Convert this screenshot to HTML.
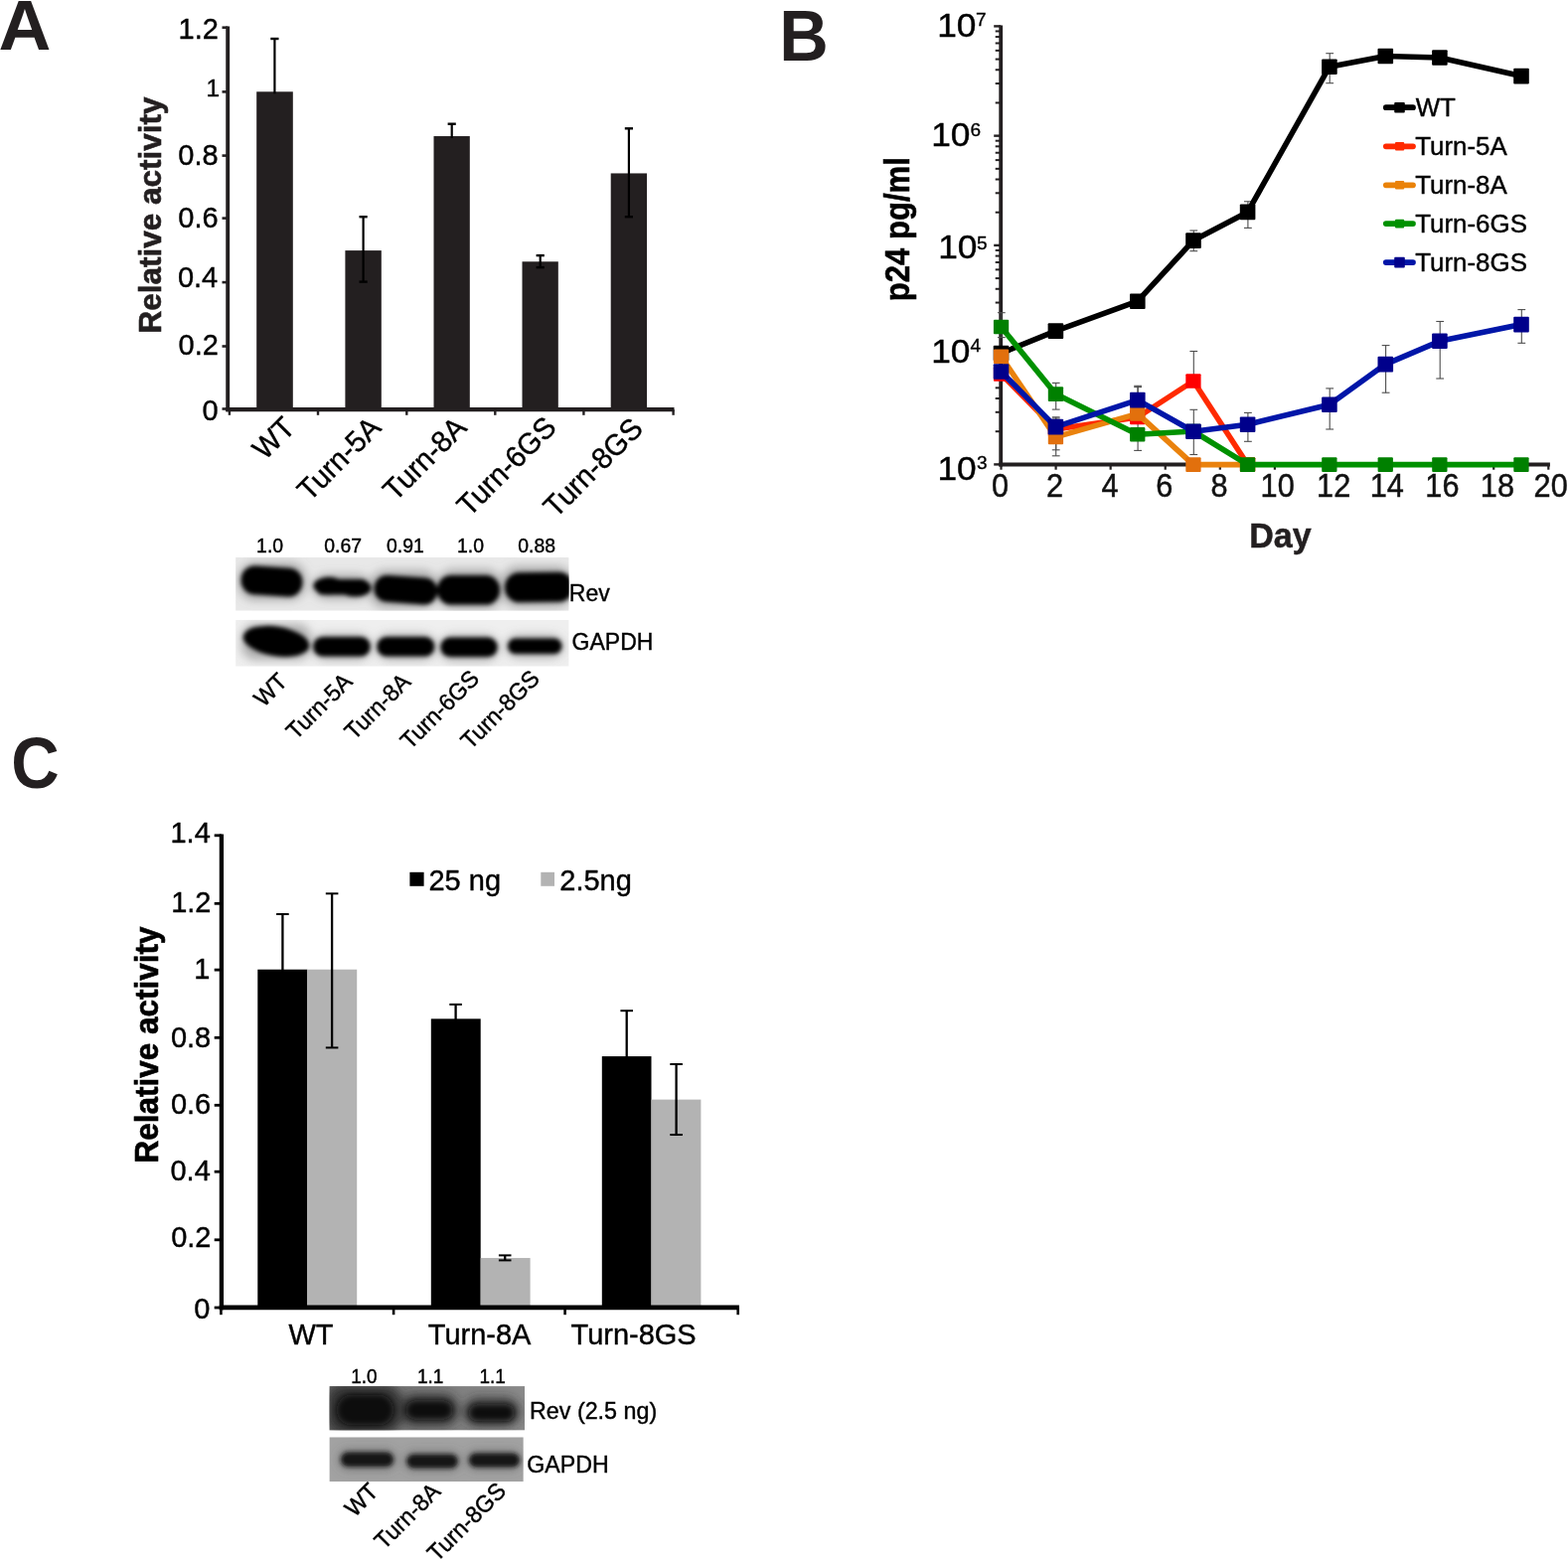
<!DOCTYPE html>
<html lang="en">
<head>
<meta charset="utf-8">
<title>Figure</title>
<style>
html,body{margin:0;padding:0;background:#fff;}
body{width:1578px;height:1570px;overflow:hidden;}
svg{display:block;font-family:"Liberation Sans",sans-serif;}
svg text{white-space:pre;}
</style>
</head>
<body>
<svg width="1578" height="1570" viewBox="0 0 1578 1570">
<defs>
<filter id="soft" x="-5%" y="-5%" width="110%" height="110%"><feGaussianBlur stdDeviation="0.35"/></filter>
<filter id="b2" x="-20%" y="-40%" width="140%" height="180%"><feGaussianBlur stdDeviation="2.2"/></filter>
<filter id="b3" x="-20%" y="-40%" width="140%" height="180%"><feGaussianBlur stdDeviation="3.2"/></filter>
<filter id="b5" x="-30%" y="-60%" width="160%" height="220%"><feGaussianBlur stdDeviation="5"/></filter>
</defs>
<rect width="1578" height="1570" fill="#fff"/>
<g id="panelA">
<text transform="translate(-1.53 49.80) scale(1 0.9646)" font-size="73.28" font-weight="bold" fill="#231f20" >A</text>
<rect x="258.20" y="92.30" width="36.60" height="319.90" fill="#231f20" />
<rect x="347.40" y="252.10" width="36.40" height="160.10" fill="#231f20" />
<rect x="436.50" y="137.04" width="36.30" height="275.16" fill="#231f20" />
<rect x="525.50" y="263.29" width="36.30" height="148.91" fill="#231f20" />
<rect x="614.70" y="174.44" width="36.30" height="237.76" fill="#231f20" />
<line x1="276.40" y1="39.00" x2="276.40" y2="94.30" stroke="#000" stroke-width="2.2" />
<line x1="272.30" y1="39.00" x2="280.50" y2="39.00" stroke="#000" stroke-width="2.4" />
<line x1="365.60" y1="218.20" x2="365.60" y2="283.60" stroke="#000" stroke-width="2.2" />
<line x1="361.50" y1="218.20" x2="369.70" y2="218.20" stroke="#000" stroke-width="2.4" />
<line x1="361.50" y1="283.60" x2="369.70" y2="283.60" stroke="#000" stroke-width="2.4" />
<line x1="454.70" y1="124.70" x2="454.70" y2="139.04" stroke="#000" stroke-width="2.2" />
<line x1="450.60" y1="124.70" x2="458.80" y2="124.70" stroke="#000" stroke-width="2.4" />
<line x1="543.70" y1="257.10" x2="543.70" y2="269.10" stroke="#000" stroke-width="2.2" />
<line x1="539.60" y1="257.10" x2="547.80" y2="257.10" stroke="#000" stroke-width="2.4" />
<line x1="539.60" y1="269.10" x2="547.80" y2="269.10" stroke="#000" stroke-width="2.4" />
<line x1="632.90" y1="129.30" x2="632.90" y2="218.20" stroke="#000" stroke-width="2.2" />
<line x1="628.80" y1="129.30" x2="637.00" y2="129.30" stroke="#000" stroke-width="2.4" />
<line x1="628.80" y1="218.20" x2="637.00" y2="218.20" stroke="#000" stroke-width="2.4" />
<line x1="229.20" y1="26.60" x2="229.20" y2="414.20" stroke="#231f20" stroke-width="3.9" />
<line x1="227.30" y1="412.20" x2="678.50" y2="412.20" stroke="#231f20" stroke-width="4.2" />
<line x1="223.50" y1="411.50" x2="229.20" y2="411.50" stroke="#231f20" stroke-width="2.6" />
<text transform="translate(203.39 422.90) scale(1 1.03)" font-size="29" fill="#000" stroke="#000" stroke-width="0.4" >0</text>
<line x1="223.50" y1="348.50" x2="229.20" y2="348.50" stroke="#231f20" stroke-width="2.6" />
<text transform="translate(179.54 356.60) scale(1 1.03)" font-size="29" fill="#000" stroke="#000" stroke-width="0.4" >0.2</text>
<line x1="223.50" y1="284.10" x2="229.20" y2="284.10" stroke="#231f20" stroke-width="2.6" />
<text transform="translate(178.89 289.20) scale(1 1.03)" font-size="29" fill="#000" stroke="#000" stroke-width="0.4" >0.4</text>
<line x1="223.50" y1="219.60" x2="229.20" y2="219.60" stroke="#231f20" stroke-width="2.6" />
<text transform="translate(179.32 228.80) scale(1 1.03)" font-size="29" fill="#000" stroke="#000" stroke-width="0.4" >0.6</text>
<line x1="223.50" y1="156.60" x2="229.20" y2="156.60" stroke="#231f20" stroke-width="2.6" />
<text transform="translate(179.32 165.80) scale(1 1.03)" font-size="29" fill="#000" stroke="#000" stroke-width="0.4" >0.8</text>
<line x1="223.50" y1="92.40" x2="229.20" y2="92.40" stroke="#231f20" stroke-width="2.6" />
<text transform="translate(207.41 96.70)" font-size="24.5" fill="#000" stroke="#000" stroke-width="0.4" >1</text>
<line x1="223.50" y1="27.70" x2="229.20" y2="27.70" stroke="#231f20" stroke-width="2.6" />
<text transform="translate(179.54 39.10) scale(1 1.03)" font-size="29" fill="#000" stroke="#000" stroke-width="0.4" >1.2</text>
<line x1="230.90" y1="412.20" x2="230.90" y2="417.80" stroke="#231f20" stroke-width="2.4" />
<line x1="320.00" y1="412.20" x2="320.00" y2="417.80" stroke="#231f20" stroke-width="2.4" />
<line x1="409.30" y1="412.20" x2="409.30" y2="417.80" stroke="#231f20" stroke-width="2.4" />
<line x1="498.30" y1="412.20" x2="498.30" y2="417.80" stroke="#231f20" stroke-width="2.4" />
<line x1="677.60" y1="412.20" x2="677.60" y2="417.80" stroke="#231f20" stroke-width="2.4" />
<line x1="587.40" y1="412.20" x2="587.40" y2="417.80" stroke="#231f20" stroke-width="2.4" />
<text transform="translate(161.70 335.40) rotate(-90) scale(1 1.02)" font-size="31.5" font-weight="bold" fill="#231f20" stroke="#231f20" stroke-width="0.6" >Relative activity</text>
<text transform="translate(298.50 432.20) rotate(-45) scale(1 1.035)" font-size="29" text-anchor="end" fill="#000" stroke="#000" stroke-width="0.4" >WT</text>
<text transform="translate(384.90 432.20) rotate(-45) scale(1 1.035)" font-size="29" text-anchor="end" fill="#000" stroke="#000" stroke-width="0.4" >Turn-5A</text>
<text transform="translate(471.10 432.20) rotate(-45) scale(1 1.035)" font-size="29" text-anchor="end" fill="#000" stroke="#000" stroke-width="0.4" >Turn-8A</text>
<text transform="translate(561.40 431.80) rotate(-45) scale(1 1.035)" font-size="29" text-anchor="end" fill="#000" stroke="#000" stroke-width="0.4" >Turn-6GS</text>
<text transform="translate(648.60 433.10) rotate(-45) scale(1 1.035)" font-size="29" text-anchor="end" fill="#000" stroke="#000" stroke-width="0.4" >Turn-8GS</text>
</g>
<g id="blotA">
<clipPath id="cA1"><rect x="237.1" y="560.8" width="335.5" height="53.9"/></clipPath>
<g clip-path="url(#cA1)">
<rect x="237.10" y="560.80" width="335.50" height="53.90" fill="#e8e8e8" />
<g filter="url(#b5)">
<rect x="240.0" y="566.0" width="68.0" height="38.0" rx="16" ry="16" fill="#777" opacity="0.55"/>
<rect x="314.0" y="578.0" width="60.0" height="25.0" rx="16" ry="16" fill="#777" opacity="0.55"/>
<rect x="372.0" y="574.0" width="69.0" height="38.0" rx="16" ry="16" fill="#777" opacity="0.55"/>
<rect x="440.0" y="573.0" width="65.0" height="40.0" rx="16" ry="16" fill="#777" opacity="0.55"/>
<rect x="505.0" y="570.0" width="71.0" height="41.0" rx="16" ry="16" fill="#777" opacity="0.55"/>
</g><g filter="url(#b2)">
<rect x="242.6" y="570.6" width="61.8" height="28.8" rx="14" ry="14" fill="#000" opacity="1" transform="rotate(4 273.5 585.0)"/>
<ellipse cx="331.0" cy="589.6" rx="15.5" ry="8.8" fill="#000" opacity="1"/>
<ellipse cx="357.5" cy="591.8" rx="16.0" ry="8.8" fill="#000" opacity="1"/>
<rect x="318.0" y="583.0" width="53.0" height="15.6" rx="7.5" ry="7.5" fill="#000" opacity="1"/>
<rect x="376.4" y="580.2" width="63.8" height="27.0" rx="13.2" ry="13.2" fill="#000" opacity="1" transform="rotate(4 408.3 593.7)"/>
<rect x="440.0" y="579.0" width="63.0" height="29.6" rx="14.4" ry="14.4" fill="#000" opacity="1"/>
<rect x="508.0" y="576.0" width="69.0" height="30.0" rx="14.8" ry="14.8" fill="#000" opacity="1" transform="rotate(-1 542.5 591.0)"/>
</g></g>
<clipPath id="cA2"><rect x="237.1" y="623.8" width="335.5" height="46.9"/></clipPath>
<g clip-path="url(#cA2)">
<rect x="237.10" y="623.80" width="335.50" height="46.90" fill="#efefef" />
<g filter="url(#b5)">
<rect x="243.0" y="628.0" width="70.0" height="36.0" rx="14" ry="14" fill="#777" opacity="0.55"/>
<rect x="314.0" y="638.0" width="60.0" height="26.0" rx="14" ry="14" fill="#777" opacity="0.55"/>
<rect x="378.0" y="638.0" width="61.0" height="26.0" rx="14" ry="14" fill="#777" opacity="0.55"/>
<rect x="442.0" y="639.0" width="60.0" height="26.0" rx="14" ry="14" fill="#777" opacity="0.55"/>
<rect x="509.0" y="639.0" width="58.0" height="23.0" rx="14" ry="14" fill="#777" opacity="0.55"/>
</g><g filter="url(#b2)">
<ellipse cx="278.0" cy="645.4" rx="33.6" ry="14.8" fill="#000" opacity="1" transform="rotate(9 278.0 645.4)"/>
<rect x="315.2" y="641.0" width="57.4" height="19.6" rx="9.6" ry="9.6" fill="#000" opacity="1"/>
<rect x="379.4" y="641.0" width="57.8" height="19.6" rx="9.6" ry="9.6" fill="#000" opacity="1"/>
<rect x="443.4" y="641.6" width="57.2" height="19.4" rx="9.6" ry="9.6" fill="#000" opacity="1"/>
<rect x="511.0" y="642.4" width="54.4" height="15.6" rx="7.6" ry="7.6" fill="#000" opacity="1"/>
</g></g>
<text transform="translate(271.60 555.70) scale(1 1.035)" font-size="19.4" text-anchor="middle" fill="#000" stroke="#000" stroke-width="0.4" >1.0</text>
<text transform="translate(345.20 555.70) scale(1 1.035)" font-size="19.4" text-anchor="middle" fill="#000" stroke="#000" stroke-width="0.4" >0.67</text>
<text transform="translate(407.90 555.70) scale(1 1.035)" font-size="19.4" text-anchor="middle" fill="#000" stroke="#000" stroke-width="0.4" >0.91</text>
<text transform="translate(473.50 555.70) scale(1 1.035)" font-size="19.4" text-anchor="middle" fill="#000" stroke="#000" stroke-width="0.4" >1.0</text>
<text transform="translate(540.20 555.70) scale(1 1.035)" font-size="19.4" text-anchor="middle" fill="#000" stroke="#000" stroke-width="0.4" >0.88</text>
<text transform="translate(572.80 605.00) scale(1 1.035)" font-size="23" fill="#000" stroke="#000" stroke-width="0.4" >Rev</text>
<text transform="translate(575.60 653.60) scale(1 1.035)" font-size="23" fill="#000" stroke="#000" stroke-width="0.4" >GAPDH</text>
<text transform="translate(290.50 687.30) rotate(-45) scale(1 1.035)" font-size="23" text-anchor="end" fill="#000" stroke="#000" stroke-width="0.4" >WT</text>
<text transform="translate(355.80 687.50) rotate(-45) scale(1 1.035)" font-size="23" text-anchor="end" fill="#000" stroke="#000" stroke-width="0.4" >Turn-5A</text>
<text transform="translate(414.60 687.70) rotate(-45) scale(1 1.035)" font-size="23" text-anchor="end" fill="#000" stroke="#000" stroke-width="0.4" >Turn-8A</text>
<text transform="translate(483.50 684.50) rotate(-45) scale(1 1.035)" font-size="23" text-anchor="end" fill="#000" stroke="#000" stroke-width="0.4" >Turn-6GS</text>
<text transform="translate(544.30 684.50) rotate(-45) scale(1 1.035)" font-size="23" text-anchor="end" fill="#000" stroke="#000" stroke-width="0.4" >Turn-8GS</text>
</g>
<g id="panelB">
<text transform="translate(784.27 60.80) scale(1 1.049)" font-size="68.52" font-weight="bold" fill="#231f20" >B</text>
<line x1="1007.20" y1="25.60" x2="1007.20" y2="469.60" stroke="#231f20" stroke-width="3.8" />
<line x1="1005.30" y1="467.50" x2="1559.90" y2="467.50" stroke="#231f20" stroke-width="4.2" />
<line x1="1000.20" y1="467.40" x2="1007.20" y2="467.40" stroke="#231f20" stroke-width="2.4" />
<line x1="1001.70" y1="434.21" x2="1007.20" y2="434.21" stroke="#231f20" stroke-width="2.0" />
<line x1="1001.70" y1="414.80" x2="1007.20" y2="414.80" stroke="#231f20" stroke-width="2.0" />
<line x1="1001.70" y1="401.02" x2="1007.20" y2="401.02" stroke="#231f20" stroke-width="2.0" />
<line x1="1001.70" y1="390.34" x2="1007.20" y2="390.34" stroke="#231f20" stroke-width="2.0" />
<line x1="1001.70" y1="381.61" x2="1007.20" y2="381.61" stroke="#231f20" stroke-width="2.0" />
<line x1="1001.70" y1="374.23" x2="1007.20" y2="374.23" stroke="#231f20" stroke-width="2.0" />
<line x1="1001.70" y1="367.83" x2="1007.20" y2="367.83" stroke="#231f20" stroke-width="2.0" />
<line x1="1001.70" y1="362.19" x2="1007.20" y2="362.19" stroke="#231f20" stroke-width="2.0" />
<line x1="1000.20" y1="357.15" x2="1007.20" y2="357.15" stroke="#231f20" stroke-width="2.4" />
<line x1="1001.70" y1="323.96" x2="1007.20" y2="323.96" stroke="#231f20" stroke-width="2.0" />
<line x1="1001.70" y1="304.55" x2="1007.20" y2="304.55" stroke="#231f20" stroke-width="2.0" />
<line x1="1001.70" y1="290.77" x2="1007.20" y2="290.77" stroke="#231f20" stroke-width="2.0" />
<line x1="1001.70" y1="280.09" x2="1007.20" y2="280.09" stroke="#231f20" stroke-width="2.0" />
<line x1="1001.70" y1="271.36" x2="1007.20" y2="271.36" stroke="#231f20" stroke-width="2.0" />
<line x1="1001.70" y1="263.98" x2="1007.20" y2="263.98" stroke="#231f20" stroke-width="2.0" />
<line x1="1001.70" y1="257.58" x2="1007.20" y2="257.58" stroke="#231f20" stroke-width="2.0" />
<line x1="1001.70" y1="251.94" x2="1007.20" y2="251.94" stroke="#231f20" stroke-width="2.0" />
<line x1="1000.20" y1="246.90" x2="1007.20" y2="246.90" stroke="#231f20" stroke-width="2.4" />
<line x1="1001.70" y1="213.71" x2="1007.20" y2="213.71" stroke="#231f20" stroke-width="2.0" />
<line x1="1001.70" y1="194.30" x2="1007.20" y2="194.30" stroke="#231f20" stroke-width="2.0" />
<line x1="1001.70" y1="180.52" x2="1007.20" y2="180.52" stroke="#231f20" stroke-width="2.0" />
<line x1="1001.70" y1="169.84" x2="1007.20" y2="169.84" stroke="#231f20" stroke-width="2.0" />
<line x1="1001.70" y1="161.11" x2="1007.20" y2="161.11" stroke="#231f20" stroke-width="2.0" />
<line x1="1001.70" y1="153.73" x2="1007.20" y2="153.73" stroke="#231f20" stroke-width="2.0" />
<line x1="1001.70" y1="147.33" x2="1007.20" y2="147.33" stroke="#231f20" stroke-width="2.0" />
<line x1="1001.70" y1="141.69" x2="1007.20" y2="141.69" stroke="#231f20" stroke-width="2.0" />
<line x1="1000.20" y1="136.65" x2="1007.20" y2="136.65" stroke="#231f20" stroke-width="2.4" />
<line x1="1001.70" y1="103.46" x2="1007.20" y2="103.46" stroke="#231f20" stroke-width="2.0" />
<line x1="1001.70" y1="84.05" x2="1007.20" y2="84.05" stroke="#231f20" stroke-width="2.0" />
<line x1="1001.70" y1="70.27" x2="1007.20" y2="70.27" stroke="#231f20" stroke-width="2.0" />
<line x1="1001.70" y1="59.59" x2="1007.20" y2="59.59" stroke="#231f20" stroke-width="2.0" />
<line x1="1001.70" y1="50.86" x2="1007.20" y2="50.86" stroke="#231f20" stroke-width="2.0" />
<line x1="1001.70" y1="43.48" x2="1007.20" y2="43.48" stroke="#231f20" stroke-width="2.0" />
<line x1="1001.70" y1="37.08" x2="1007.20" y2="37.08" stroke="#231f20" stroke-width="2.0" />
<line x1="1001.70" y1="31.44" x2="1007.20" y2="31.44" stroke="#231f20" stroke-width="2.0" />
<line x1="1000.20" y1="26.40" x2="1007.20" y2="26.40" stroke="#231f20" stroke-width="2.4" />
<line x1="1007.50" y1="467.50" x2="1007.50" y2="472.70" stroke="#231f20" stroke-width="2.2" />
<line x1="1062.58" y1="467.50" x2="1062.58" y2="472.70" stroke="#231f20" stroke-width="2.2" />
<line x1="1117.66" y1="467.50" x2="1117.66" y2="472.70" stroke="#231f20" stroke-width="2.2" />
<line x1="1172.74" y1="467.50" x2="1172.74" y2="472.70" stroke="#231f20" stroke-width="2.2" />
<line x1="1227.82" y1="467.50" x2="1227.82" y2="472.70" stroke="#231f20" stroke-width="2.2" />
<line x1="1282.90" y1="467.50" x2="1282.90" y2="472.70" stroke="#231f20" stroke-width="2.2" />
<line x1="1337.98" y1="467.50" x2="1337.98" y2="472.70" stroke="#231f20" stroke-width="2.2" />
<line x1="1393.06" y1="467.50" x2="1393.06" y2="472.70" stroke="#231f20" stroke-width="2.2" />
<line x1="1448.14" y1="467.50" x2="1448.14" y2="472.70" stroke="#231f20" stroke-width="2.2" />
<line x1="1503.22" y1="467.50" x2="1503.22" y2="472.70" stroke="#231f20" stroke-width="2.2" />
<line x1="1558.30" y1="467.50" x2="1558.30" y2="472.70" stroke="#231f20" stroke-width="2.2" />
<text transform="translate(943.14 36.90) scale(1 0.92)" font-size="35.3" fill="#000" stroke="#000" stroke-width="0.45" >10</text>
<text transform="translate(982.10 26.00)" font-size="19" fill="#000" stroke="#000" stroke-width="0.35" >7</text>
<text transform="translate(937.24 147.30) scale(1 0.92)" font-size="35.3" fill="#000" stroke="#000" stroke-width="0.45" >10</text>
<text transform="translate(976.45 136.90)" font-size="19" fill="#000" stroke="#000" stroke-width="0.35" >6</text>
<text transform="translate(944.14 260.30) scale(1 0.92)" font-size="35.3" fill="#000" stroke="#000" stroke-width="0.45" >10</text>
<text transform="translate(983.04 250.50)" font-size="19" fill="#000" stroke="#000" stroke-width="0.35" >5</text>
<text transform="translate(937.24 364.60) scale(1 0.92)" font-size="35.3" fill="#000" stroke="#000" stroke-width="0.45" >10</text>
<text transform="translate(976.57 354.20)" font-size="19" fill="#000" stroke="#000" stroke-width="0.35" >4</text>
<text transform="translate(943.44 482.60) scale(1 0.92)" font-size="35.3" fill="#000" stroke="#000" stroke-width="0.45" >10</text>
<text transform="translate(982.99 471.60)" font-size="19" fill="#000" stroke="#000" stroke-width="0.35" >3</text>
<text transform="translate(998.04 500.20) scale(1 1.055)" font-size="30.7" fill="#111" stroke="#111" stroke-width="0.45" >0</text>
<text transform="translate(1053.08 500.20) scale(1 1.055)" font-size="30.7" fill="#111" stroke="#111" stroke-width="0.45" >2</text>
<text transform="translate(1108.46 500.20) scale(1 1.055)" font-size="30.7" fill="#111" stroke="#111" stroke-width="0.45" >4</text>
<text transform="translate(1163.27 500.20) scale(1 1.055)" font-size="30.7" fill="#111" stroke="#111" stroke-width="0.45" >6</text>
<text transform="translate(1218.58 500.20) scale(1 1.055)" font-size="30.7" fill="#111" stroke="#111" stroke-width="0.45" >8</text>
<text transform="translate(1268.59 500.20) scale(1 1.055)" font-size="30.7" fill="#111" stroke="#111" stroke-width="0.45" >10</text>
<text transform="translate(1325.08 500.20) scale(1 1.055)" font-size="30.7" fill="#111" stroke="#111" stroke-width="0.45" >12</text>
<text transform="translate(1378.63 500.20) scale(1 1.055)" font-size="30.7" fill="#111" stroke="#111" stroke-width="0.45" >14</text>
<text transform="translate(1434.36 500.20) scale(1 1.055)" font-size="30.7" fill="#111" stroke="#111" stroke-width="0.45" >16</text>
<text transform="translate(1489.86 500.20) scale(1 1.055)" font-size="30.7" fill="#111" stroke="#111" stroke-width="0.45" >18</text>
<text transform="translate(1543.57 500.20) scale(1 1.055)" font-size="30.7" fill="#111" stroke="#111" stroke-width="0.45" >20</text>
<text transform="translate(1288.40 551.00) scale(1 1.035)" font-size="34.0" font-weight="bold" text-anchor="middle" fill="#231f20" stroke="#231f20" stroke-width="0.5" >Day</text>
<text transform="translate(915.00 303.30) rotate(-90) scale(1 1.1)" font-size="31.1" font-weight="bold" fill="#000" stroke="#000" stroke-width="0.5" >p24 pg/ml</text>
<line x1="1007.80" y1="314.70" x2="1007.80" y2="339.60" stroke="#4d4d4d" stroke-width="1.1" />
<line x1="1003.90" y1="314.70" x2="1011.70" y2="314.70" stroke="#4d4d4d" stroke-width="1.1" />
<line x1="1003.90" y1="339.60" x2="1011.70" y2="339.60" stroke="#4d4d4d" stroke-width="1.1" />
<line x1="1062.70" y1="385.40" x2="1062.70" y2="412.10" stroke="#4d4d4d" stroke-width="1.1" />
<line x1="1058.80" y1="385.40" x2="1066.60" y2="385.40" stroke="#4d4d4d" stroke-width="1.1" />
<line x1="1058.80" y1="412.10" x2="1066.60" y2="412.10" stroke="#4d4d4d" stroke-width="1.1" />
<line x1="1062.70" y1="419.80" x2="1062.70" y2="452.80" stroke="#4d4d4d" stroke-width="1.1" />
<line x1="1058.80" y1="419.80" x2="1066.60" y2="419.80" stroke="#4d4d4d" stroke-width="1.1" />
<line x1="1058.80" y1="452.80" x2="1066.60" y2="452.80" stroke="#4d4d4d" stroke-width="1.1" />
<line x1="1062.70" y1="421.00" x2="1062.70" y2="458.80" stroke="#4d4d4d" stroke-width="1.1" />
<line x1="1058.80" y1="421.00" x2="1066.60" y2="421.00" stroke="#4d4d4d" stroke-width="1.1" />
<line x1="1058.80" y1="458.80" x2="1066.60" y2="458.80" stroke="#4d4d4d" stroke-width="1.1" />
<line x1="1145.10" y1="388.30" x2="1145.10" y2="453.40" stroke="#4d4d4d" stroke-width="1.1" />
<line x1="1141.20" y1="388.30" x2="1149.00" y2="388.30" stroke="#4d4d4d" stroke-width="1.1" />
<line x1="1141.20" y1="453.40" x2="1149.00" y2="453.40" stroke="#4d4d4d" stroke-width="1.1" />
<line x1="1145.10" y1="389.60" x2="1145.10" y2="426.00" stroke="#4d4d4d" stroke-width="1.1" />
<line x1="1141.20" y1="389.60" x2="1149.00" y2="389.60" stroke="#4d4d4d" stroke-width="1.1" />
<line x1="1201.30" y1="353.50" x2="1201.30" y2="383.50" stroke="#4d4d4d" stroke-width="1.1" />
<line x1="1197.40" y1="353.50" x2="1205.20" y2="353.50" stroke="#4d4d4d" stroke-width="1.1" />
<line x1="1201.30" y1="412.30" x2="1201.30" y2="457.50" stroke="#4d4d4d" stroke-width="1.1" />
<line x1="1197.40" y1="412.30" x2="1205.20" y2="412.30" stroke="#4d4d4d" stroke-width="1.1" />
<line x1="1197.40" y1="457.50" x2="1205.20" y2="457.50" stroke="#4d4d4d" stroke-width="1.1" />
<line x1="1201.30" y1="232.00" x2="1201.30" y2="252.70" stroke="#4d4d4d" stroke-width="1.1" />
<line x1="1197.40" y1="232.00" x2="1205.20" y2="232.00" stroke="#4d4d4d" stroke-width="1.1" />
<line x1="1197.40" y1="252.70" x2="1205.20" y2="252.70" stroke="#4d4d4d" stroke-width="1.1" />
<line x1="1255.90" y1="202.80" x2="1255.90" y2="229.40" stroke="#4d4d4d" stroke-width="1.1" />
<line x1="1252.00" y1="202.80" x2="1259.80" y2="202.80" stroke="#4d4d4d" stroke-width="1.1" />
<line x1="1252.00" y1="229.40" x2="1259.80" y2="229.40" stroke="#4d4d4d" stroke-width="1.1" />
<line x1="1255.90" y1="415.40" x2="1255.90" y2="444.30" stroke="#4d4d4d" stroke-width="1.1" />
<line x1="1252.00" y1="415.40" x2="1259.80" y2="415.40" stroke="#4d4d4d" stroke-width="1.1" />
<line x1="1252.00" y1="444.30" x2="1259.80" y2="444.30" stroke="#4d4d4d" stroke-width="1.1" />
<line x1="1338.20" y1="53.70" x2="1338.20" y2="83.70" stroke="#4d4d4d" stroke-width="1.1" />
<line x1="1334.30" y1="53.70" x2="1342.10" y2="53.70" stroke="#4d4d4d" stroke-width="1.1" />
<line x1="1334.30" y1="83.70" x2="1342.10" y2="83.70" stroke="#4d4d4d" stroke-width="1.1" />
<line x1="1338.20" y1="390.90" x2="1338.20" y2="432.00" stroke="#4d4d4d" stroke-width="1.1" />
<line x1="1334.30" y1="390.90" x2="1342.10" y2="390.90" stroke="#4d4d4d" stroke-width="1.1" />
<line x1="1334.30" y1="432.00" x2="1342.10" y2="432.00" stroke="#4d4d4d" stroke-width="1.1" />
<line x1="1394.60" y1="347.60" x2="1394.60" y2="395.20" stroke="#4d4d4d" stroke-width="1.1" />
<line x1="1390.70" y1="347.60" x2="1398.50" y2="347.60" stroke="#4d4d4d" stroke-width="1.1" />
<line x1="1390.70" y1="395.20" x2="1398.50" y2="395.20" stroke="#4d4d4d" stroke-width="1.1" />
<line x1="1449.20" y1="323.50" x2="1449.20" y2="381.00" stroke="#4d4d4d" stroke-width="1.1" />
<line x1="1445.30" y1="323.50" x2="1453.10" y2="323.50" stroke="#4d4d4d" stroke-width="1.1" />
<line x1="1445.30" y1="381.00" x2="1453.10" y2="381.00" stroke="#4d4d4d" stroke-width="1.1" />
<line x1="1531.30" y1="311.60" x2="1531.30" y2="345.30" stroke="#4d4d4d" stroke-width="1.1" />
<line x1="1527.40" y1="311.60" x2="1535.20" y2="311.60" stroke="#4d4d4d" stroke-width="1.1" />
<line x1="1527.40" y1="345.30" x2="1535.20" y2="345.30" stroke="#4d4d4d" stroke-width="1.1" />
<line x1="1394.60" y1="50.50" x2="1394.60" y2="62.50" stroke="#4d4d4d" stroke-width="1.1" />
<line x1="1390.70" y1="50.50" x2="1398.50" y2="50.50" stroke="#4d4d4d" stroke-width="1.1" />
<line x1="1390.70" y1="62.50" x2="1398.50" y2="62.50" stroke="#4d4d4d" stroke-width="1.1" />
<g filter="url(#soft)">
<polyline points="1007.5,355.5 1062.4,333.1 1144.8,303.2 1201.0,242.1 1255.6,213.4 1337.9,67.2 1394.3,56.5 1448.9,58.0 1531.0,76.6" fill="none" stroke="#000" stroke-width="5.6" stroke-linejoin="round"/>
<rect x="999.7" y="347.7" width="15.6" height="15.6" rx="1" fill="#000"/>
<rect x="1054.6" y="325.3" width="15.6" height="15.6" rx="1" fill="#000"/>
<rect x="1137.0" y="295.4" width="15.6" height="15.6" rx="1" fill="#000"/>
<rect x="1193.2" y="234.3" width="15.6" height="15.6" rx="1" fill="#000"/>
<rect x="1247.8" y="205.6" width="15.6" height="15.6" rx="1" fill="#000"/>
<rect x="1330.1" y="59.4" width="15.6" height="15.6" rx="1" fill="#000"/>
<rect x="1386.5" y="48.7" width="15.6" height="15.6" rx="1" fill="#000"/>
<rect x="1441.1" y="50.2" width="15.6" height="15.6" rx="1" fill="#000"/>
<rect x="1523.2" y="68.8" width="15.6" height="15.6" rx="1" fill="#000"/>
<polyline points="1007.5,376.5 1062.4,432.0 1144.8,420.0 1201.0,383.5 1255.6,467.6" fill="none" stroke="#ff2a00" stroke-width="5.6" stroke-linejoin="round"/>
<rect x="999.9" y="369.2" width="15.3" height="14.6" rx="1" fill="#ff0000"/>
<rect x="1054.8" y="424.7" width="15.3" height="14.6" rx="1" fill="#ff0000"/>
<rect x="1137.1" y="412.7" width="15.3" height="14.6" rx="1" fill="#ff0000"/>
<rect x="1193.3" y="376.2" width="15.3" height="14.6" rx="1" fill="#ff0000"/>
<rect x="1247.9" y="460.3" width="15.3" height="14.6" rx="1" fill="#ff0000"/>
<polyline points="1007.5,358.8 1062.4,439.9 1144.8,416.4 1201.0,467.6 1255.6,467.6" fill="none" stroke="#ea8209" stroke-width="5.6" stroke-linejoin="round"/>
<rect x="999.9" y="351.5" width="15.3" height="14.6" rx="1" fill="#e2700f"/>
<rect x="1054.8" y="432.6" width="15.3" height="14.6" rx="1" fill="#e2700f"/>
<rect x="1137.1" y="409.1" width="15.3" height="14.6" rx="1" fill="#e2700f"/>
<rect x="1193.3" y="460.3" width="15.3" height="14.6" rx="1" fill="#e2700f"/>
<rect x="1247.9" y="460.3" width="15.3" height="14.6" rx="1" fill="#e2700f"/>
<polyline points="1007.5,329.0 1062.4,396.6 1144.8,437.3 1201.0,434.0 1255.6,467.6 1337.9,467.6 1394.3,467.6 1448.9,467.6 1531.0,467.6" fill="none" stroke="#009100" stroke-width="5.6" stroke-linejoin="round"/>
<rect x="999.9" y="321.7" width="15.3" height="14.6" rx="1" fill="#008000"/>
<rect x="1054.8" y="389.3" width="15.3" height="14.6" rx="1" fill="#008000"/>
<rect x="1137.1" y="430.0" width="15.3" height="14.6" rx="1" fill="#008000"/>
<rect x="1193.3" y="426.7" width="15.3" height="14.6" rx="1" fill="#008000"/>
<rect x="1247.9" y="460.3" width="15.3" height="14.6" rx="1" fill="#008000"/>
<rect x="1330.2" y="460.3" width="15.3" height="14.6" rx="1" fill="#008000"/>
<rect x="1386.6" y="460.3" width="15.3" height="14.6" rx="1" fill="#008000"/>
<rect x="1441.2" y="460.3" width="15.3" height="14.6" rx="1" fill="#008000"/>
<rect x="1523.3" y="460.3" width="15.3" height="14.6" rx="1" fill="#008000"/>
<polyline points="1007.5,374.0 1062.4,429.6 1144.8,402.6 1201.0,434.3 1255.6,427.2 1337.9,407.2 1394.3,366.6 1448.9,343.3 1531.0,326.6" fill="none" stroke="#0014a8" stroke-width="5.6" stroke-linejoin="round"/>
<rect x="999.7" y="366.2" width="15.6" height="15.6" rx="1" fill="#00008b"/>
<rect x="1054.6" y="421.8" width="15.6" height="15.6" rx="1" fill="#00008b"/>
<rect x="1137.0" y="394.8" width="15.6" height="15.6" rx="1" fill="#00008b"/>
<rect x="1193.2" y="426.5" width="15.6" height="15.6" rx="1" fill="#00008b"/>
<rect x="1247.8" y="419.4" width="15.6" height="15.6" rx="1" fill="#00008b"/>
<rect x="1330.1" y="399.4" width="15.6" height="15.6" rx="1" fill="#00008b"/>
<rect x="1386.5" y="358.8" width="15.6" height="15.6" rx="1" fill="#00008b"/>
<rect x="1441.1" y="335.5" width="15.6" height="15.6" rx="1" fill="#00008b"/>
<rect x="1523.2" y="318.8" width="15.6" height="15.6" rx="1" fill="#00008b"/>
</g>
<line x1="1394.80" y1="108.20" x2="1422.00" y2="108.20" stroke="#000" stroke-width="5.7" stroke-linecap="round"/>
<rect x="1403.20" y="102.90" width="10.60" height="10.60" fill="#000" rx="1"/>
<text transform="translate(1424.67 116.60)" font-size="25.9" fill="#000" stroke="#000" stroke-width="0.4" >WT</text>
<line x1="1394.80" y1="147.30" x2="1422.00" y2="147.30" stroke="#ff2a00" stroke-width="5.7" stroke-linecap="round"/>
<rect x="1404.00" y="143.00" width="9.20" height="8.60" fill="#ff2a00" rx="1"/>
<text transform="translate(1424.22 155.70)" font-size="25.9" fill="#000" stroke="#000" stroke-width="0.4" >Turn-5A</text>
<line x1="1394.80" y1="186.30" x2="1422.00" y2="186.30" stroke="#ea8209" stroke-width="5.7" stroke-linecap="round"/>
<rect x="1404.00" y="182.00" width="9.20" height="8.60" fill="#ea8209" rx="1"/>
<text transform="translate(1424.22 194.70)" font-size="25.9" fill="#000" stroke="#000" stroke-width="0.4" >Turn-8A</text>
<line x1="1394.80" y1="225.10" x2="1422.00" y2="225.10" stroke="#009100" stroke-width="5.7" stroke-linecap="round"/>
<rect x="1404.00" y="220.80" width="9.20" height="8.60" fill="#009100" rx="1"/>
<text transform="translate(1424.22 233.50)" font-size="25.9" fill="#000" stroke="#000" stroke-width="0.4" >Turn-6GS</text>
<line x1="1394.80" y1="264.10" x2="1422.00" y2="264.10" stroke="#0014a8" stroke-width="5.7" stroke-linecap="round"/>
<rect x="1403.20" y="258.80" width="10.60" height="10.60" fill="#00008b" rx="1"/>
<text transform="translate(1424.22 272.50)" font-size="25.9" fill="#000" stroke="#000" stroke-width="0.4" >Turn-8GS</text>
</g>
<g id="panelC">
<text transform="translate(11.22 793.27) scale(1 1.09)" font-size="67.02" font-weight="bold" fill="#231f20" >C</text>
<rect x="259.30" y="975.70" width="50.00" height="340.10" fill="#000" />
<rect x="309.30" y="975.70" width="49.90" height="340.10" fill="#b3b3b3" />
<rect x="433.80" y="1025.34" width="49.90" height="290.46" fill="#000" />
<rect x="483.70" y="1266.06" width="49.90" height="49.74" fill="#b3b3b3" />
<rect x="605.80" y="1063.08" width="49.70" height="252.72" fill="#000" />
<rect x="655.50" y="1106.60" width="49.90" height="209.20" fill="#b3b3b3" />
<line x1="284.40" y1="920.00" x2="284.40" y2="977.00" stroke="#000" stroke-width="2.3" />
<line x1="278.10" y1="920.00" x2="290.70" y2="920.00" stroke="#000" stroke-width="2.0" />
<line x1="334.10" y1="899.30" x2="334.10" y2="1054.40" stroke="#000" stroke-width="2.3" />
<line x1="327.80" y1="899.30" x2="340.40" y2="899.30" stroke="#000" stroke-width="2.0" />
<line x1="327.80" y1="1054.40" x2="340.40" y2="1054.40" stroke="#000" stroke-width="2.0" />
<line x1="458.60" y1="1010.90" x2="458.60" y2="1026.00" stroke="#000" stroke-width="2.3" />
<line x1="452.30" y1="1010.90" x2="464.90" y2="1010.90" stroke="#000" stroke-width="2.0" />
<line x1="508.20" y1="1263.40" x2="508.20" y2="1268.40" stroke="#000" stroke-width="2.3" />
<line x1="501.90" y1="1263.40" x2="514.50" y2="1263.40" stroke="#000" stroke-width="2.0" />
<line x1="501.90" y1="1268.40" x2="514.50" y2="1268.40" stroke="#000" stroke-width="2.0" />
<line x1="630.70" y1="1017.20" x2="630.70" y2="1064.00" stroke="#000" stroke-width="2.3" />
<line x1="624.40" y1="1017.20" x2="637.00" y2="1017.20" stroke="#000" stroke-width="2.0" />
<line x1="680.60" y1="1071.00" x2="680.60" y2="1142.00" stroke="#000" stroke-width="2.3" />
<line x1="674.30" y1="1071.00" x2="686.90" y2="1071.00" stroke="#000" stroke-width="2.0" />
<line x1="674.30" y1="1142.00" x2="686.90" y2="1142.00" stroke="#000" stroke-width="2.0" />
<line x1="222.90" y1="839.40" x2="222.90" y2="1318.20" stroke="#000" stroke-width="4.3" />
<line x1="220.80" y1="1315.80" x2="743.90" y2="1315.80" stroke="#000" stroke-width="4.8" />
<line x1="215.70" y1="1316.00" x2="222.90" y2="1316.00" stroke="#000" stroke-width="2.8" />
<text transform="translate(195.19 1327.40) scale(1 1.02)" font-size="29" fill="#000" stroke="#000" stroke-width="0.4" >0</text>
<line x1="215.70" y1="1247.80" x2="222.90" y2="1247.80" stroke="#000" stroke-width="2.8" />
<text transform="translate(172.14 1255.10) scale(1 1.02)" font-size="29" fill="#000" stroke="#000" stroke-width="0.4" >0.2</text>
<line x1="215.70" y1="1179.20" x2="222.90" y2="1179.20" stroke="#000" stroke-width="2.8" />
<text transform="translate(171.49 1188.00) scale(1 1.02)" font-size="29" fill="#000" stroke="#000" stroke-width="0.4" >0.4</text>
<line x1="215.70" y1="1112.30" x2="222.90" y2="1112.30" stroke="#000" stroke-width="2.8" />
<text transform="translate(171.92 1121.20) scale(1 1.02)" font-size="29" fill="#000" stroke="#000" stroke-width="0.4" >0.6</text>
<line x1="215.70" y1="1044.30" x2="222.90" y2="1044.30" stroke="#000" stroke-width="2.8" />
<text transform="translate(171.92 1054.10) scale(1 1.02)" font-size="29" fill="#000" stroke="#000" stroke-width="0.4" >0.8</text>
<line x1="215.70" y1="976.10" x2="222.90" y2="976.10" stroke="#000" stroke-width="2.8" />
<text transform="translate(195.22 984.70) scale(1 1.02)" font-size="29" fill="#000" stroke="#000" stroke-width="0.4" >1</text>
<line x1="215.70" y1="909.30" x2="222.90" y2="909.30" stroke="#000" stroke-width="2.8" />
<text transform="translate(172.14 918.00) scale(1 1.02)" font-size="29" fill="#000" stroke="#000" stroke-width="0.4" >1.2</text>
<line x1="215.70" y1="840.80" x2="222.90" y2="840.80" stroke="#000" stroke-width="2.8" />
<text transform="translate(171.49 848.30) scale(1 1.02)" font-size="29" fill="#000" stroke="#000" stroke-width="0.4" >1.4</text>
<line x1="222.40" y1="1315.80" x2="222.40" y2="1323.20" stroke="#000" stroke-width="2.6" />
<line x1="396.10" y1="1315.80" x2="396.10" y2="1323.20" stroke="#000" stroke-width="2.6" />
<line x1="568.60" y1="1315.80" x2="568.60" y2="1323.20" stroke="#000" stroke-width="2.6" />
<line x1="742.70" y1="1315.80" x2="742.70" y2="1323.20" stroke="#000" stroke-width="2.6" />
<text transform="translate(158.90 1170.50) rotate(-90) scale(1 1.03)" font-size="31.5" font-weight="bold" fill="#000" stroke="#000" stroke-width="0.6" >Relative activity</text>
<text transform="translate(313.00 1353.10) scale(1 1.035)" font-size="29" text-anchor="middle" fill="#000" stroke="#000" stroke-width="0.4" >WT</text>
<text transform="translate(482.60 1353.10) scale(1 1.035)" font-size="29" text-anchor="middle" fill="#000" stroke="#000" stroke-width="0.4" >Turn-8A</text>
<text transform="translate(637.60 1353.10) scale(1 1.035)" font-size="29" text-anchor="middle" fill="#000" stroke="#000" stroke-width="0.4" >Turn-8GS</text>
<rect x="412.40" y="877.80" width="14.20" height="14.00" fill="#000" />
<text transform="translate(431.50 896.30) scale(1 1.035)" font-size="29" fill="#000" stroke="#000" stroke-width="0.4" >25 ng</text>
<rect x="544.30" y="877.80" width="13.70" height="14.00" fill="#b3b3b3" />
<text transform="translate(563.30 896.30) scale(1 1.035)" font-size="29" fill="#000" stroke="#000" stroke-width="0.4" >2.5ng</text>
</g>
<g id="blotC">
<clipPath id="cC1"><rect x="331.4" y="1395.1" width="196.6" height="44.5"/></clipPath>
<linearGradient id="gC1" x1="0" y1="0" x2="1" y2="0"><stop offset="0" stop-color="#5e5e5e"/><stop offset="0.45" stop-color="#7a7a7a"/><stop offset="1" stop-color="#8a8a8a"/></linearGradient>
<g clip-path="url(#cC1)">
<rect x="331.40" y="1395.10" width="196.60" height="44.50" fill="url(#gC1)" />
<g filter="url(#b5)">
<rect x="330.0" y="1394.0" width="74.0" height="48.0" rx="16" ry="16" fill="#2a2a2a" opacity="0.85"/>
<rect x="402.0" y="1402.0" width="60.0" height="34.0" rx="16" ry="16" fill="#2a2a2a" opacity="0.7"/>
<rect x="466.0" y="1406.0" width="58.0" height="30.0" rx="16" ry="16" fill="#2a2a2a" opacity="0.7"/>
</g><g filter="url(#b3)">
<rect x="339.0" y="1403.5" width="57.0" height="31.0" rx="15.0" ry="15.0" fill="#0c0c0c" opacity="1"/>
<rect x="408.5" y="1409.5" width="47.0" height="19.0" rx="9.2" ry="9.2" fill="#101010" opacity="1"/>
<rect x="472.0" y="1413.5" width="45.5" height="16.5" rx="8.0" ry="8.0" fill="#101010" opacity="1"/>
</g></g>
<clipPath id="cC2"><rect x="331.4" y="1446.3" width="195.4" height="44.9"/></clipPath>
<g clip-path="url(#cC2)">
<rect x="331.40" y="1446.30" width="195.40" height="44.90" fill="#a2a2a2" />
<g filter="url(#b5)">
<rect x="340.0" y="1458.0" width="59.0" height="22.0" rx="10" ry="10" fill="#555" opacity="0.45"/>
<rect x="406.0" y="1460.0" width="58.0" height="21.0" rx="10" ry="10" fill="#555" opacity="0.45"/>
<rect x="469.0" y="1459.0" width="56.0" height="21.0" rx="10" ry="10" fill="#555" opacity="0.45"/>
</g><g filter="url(#b2)">
<rect x="343.0" y="1461.6" width="53.0" height="14.4" rx="7.2" ry="7.2" fill="#161616" opacity="1"/>
<rect x="409.4" y="1463.8" width="51.4" height="13.6" rx="6.8" ry="6.8" fill="#161616" opacity="1"/>
<rect x="472.0" y="1462.4" width="51.0" height="14.2" rx="7.1" ry="7.1" fill="#161616" opacity="1"/>
</g></g>
<text transform="translate(366.40 1392.00) scale(1 1.035)" font-size="19" text-anchor="middle" fill="#000" stroke="#000" stroke-width="0.4" >1.0</text>
<text transform="translate(433.20 1392.00) scale(1 1.035)" font-size="19" text-anchor="middle" fill="#000" stroke="#000" stroke-width="0.4" >1.1</text>
<text transform="translate(495.70 1392.00) scale(1 1.035)" font-size="19" text-anchor="middle" fill="#000" stroke="#000" stroke-width="0.4" >1.1</text>
<text transform="translate(533.00 1427.90) scale(1 1.035)" font-size="23.3" fill="#000" stroke="#000" stroke-width="0.4" >Rev (2.5 ng)</text>
<text transform="translate(530.20 1481.70) scale(1 1.035)" font-size="23.2" fill="#000" stroke="#000" stroke-width="0.4" >GAPDH</text>
<text transform="translate(381.90 1502.50) rotate(-45) scale(1 1.035)" font-size="23" text-anchor="end" fill="#000" stroke="#000" stroke-width="0.4" >WT</text>
<text transform="translate(444.60 1502.50) rotate(-45) scale(1 1.035)" font-size="23" text-anchor="end" fill="#000" stroke="#000" stroke-width="0.4" >Turn-8A</text>
<text transform="translate(510.50 1502.00) rotate(-45) scale(1 1.035)" font-size="23" text-anchor="end" fill="#000" stroke="#000" stroke-width="0.4" >Turn-8GS</text>
</g>
</svg>
</body>
</html>
